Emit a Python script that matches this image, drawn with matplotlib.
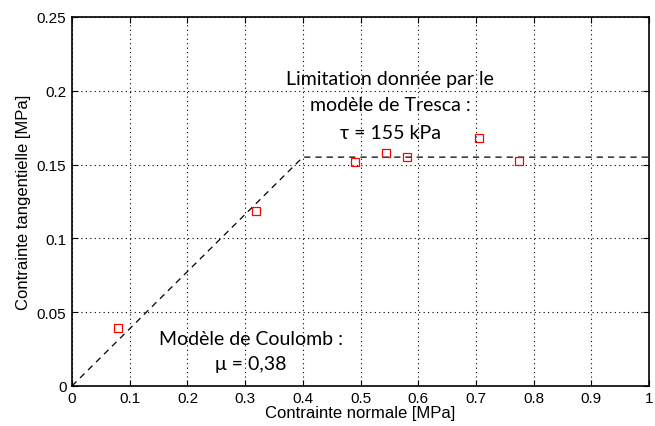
import matplotlib.pyplot as plt
import numpy as np

# measured points
sigma_n = [0.079, 0.319, 0.490, 0.544, 0.580, 0.705, 0.775]
tau = [0.0393, 0.1184, 0.1514, 0.1578, 0.1551, 0.1677, 0.1524]

# Coulomb / Tresca criterion
crit_x = [0.0, 0.4, 1.0]
crit_y = [0.0, 0.155, 0.155]

xticks = np.arange(0, 1.01, 0.1)
yticks = np.arange(0, 0.251, 0.05)
xtick_labels = ['0', '0.1', '0.2', '0.3', '0.4', '0.5', '0.6', '0.7', '0.8', '0.9', '1']
ytick_labels = ['0', '0.05', '0.1', '0.15', '0.2', '0.25']

plt.rcParams['font.family'] = ['Liberation Sans', 'DejaVu Sans']

fig = plt.figure(figsize=(6.55, 4.27), dpi=100)
ax = fig.add_axes([0.110, 0.094, 0.881, 0.864])

ax.plot(crit_x, crit_y, 'k--', lw=0.9, dashes=(5, 4))
ax.plot(sigma_n, tau, 's', mfc='none', mec='red', ms=5.5, mew=0.9)

ax.set_xlim(0, 1)
ax.set_ylim(0, 0.25)
ax.set_xticks(xticks)
ax.set_xticklabels(xtick_labels)
ax.set_yticks(yticks)
ax.set_yticklabels(ytick_labels)
ax.tick_params(direction='in', top=True, right=True, labelsize=11, length=4, pad=4)
ax.grid(True, ls=(0, (1, 3)), color='k', lw=0.8)
for s in ax.spines.values():
    s.set_linewidth(1.2)

ax.set_xlabel('Contrainte normale [MPa]', fontsize=12, labelpad=0)
ax.set_ylabel('Contrainte tangentielle [MPa]', fontsize=12, labelpad=4)

ann = dict(family=['Lato', 'DejaVu Sans'], fontsize=14, ha='center', va='center')
ax.text(0.551, 0.208, 'Limitation donnée par le', **ann)
ax.text(0.551, 0.191, 'modèle de Tresca :', **ann)
ax.text(0.551, 0.172, 'τ = 155 kPa', **ann)
ax.text(0.31, 0.0323, 'Modèle de Coulomb :', **ann)
ax.text(0.31, 0.0154, 'μ = 0,38', **ann)

fig.savefig('out.png', dpi=100)
